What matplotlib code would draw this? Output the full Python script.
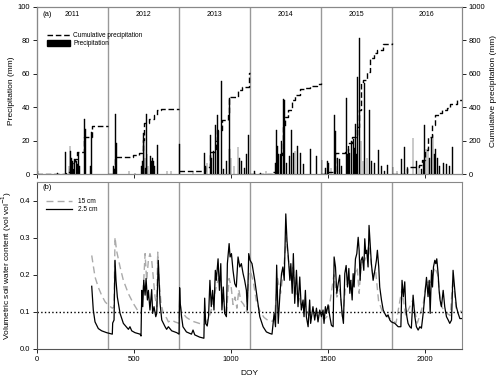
import matplotlib
matplotlib.use("Agg")
import matplotlib.pyplot as plt
from matplotlib.patches import Patch
from matplotlib.lines import Line2D

plt.rcParams['font.family'] = ['Liberation Sans', 'DejaVu Sans']

# year boundaries (DOY counted from 1 Jan 2011)
years = ["2011", "2012", "2013", "2014", "2015", "2016"]
year_start = [0, 366, 731, 1096, 1461, 1827]
year_end = [366, 731, 1096, 1461, 1827, 2190]

# daily precipitation (DOY, mm)
precip = [(3, 2), (107, 1), (148, 13.5), (165, 5), (170, 17), (173, 14), (178, 10), (182, 8), (187, 3), (195, 9),
          (203, 8), (208, 6), (213, 13), (218, 5), (244, 33), (249, 27), (275, 5), (278, 4), (282, 25.5),
          (395, 5), (400, 3), (406, 36), (409, 19), (474, 2), (505, 1), (540, 5), (545, 8), (547, 25), (551, 22),
          (556, 10), (560, 4), (564, 36), (567, 12), (572, 5), (585, 11), (590, 8), (595, 10), (600, 8), (605, 5),
          (622, 17.6), (670, 2), (690, 2),
          (735, 18), (804, 2), (864, 13), (868, 5), (876, 7), (893, 23.6), (900, 10), (910, 14), (921, 29.5),
          (929, 35.5), (935, 26), (952, 55.8), (962, 3), (975, 8), (990, 45.8), (993, 15), (1000, 10), (1015, 5),
          (1036, 16.6), (1045, 10), (1055, 8), (1070, 4), (1078, 12), (1091, 23.6),
          (1120, 2), (1150, 1), (1180, 2), (1227, 7), (1235, 26.6), (1240, 17), (1245, 12), (1253, 12), (1260, 20),
          (1270, 45), (1273, 29), (1276, 44.6), (1287, 7), (1301, 11), (1313, 26.6), (1322, 13), (1330, 14),
          (1342, 17), (1356, 13), (1373, 6), (1411, 15), (1442, 11),
          (1469, 8.7), (1485, 4), (1495, 8), (1503, 7), (1515, 4), (1534, 35.5), (1537, 26), (1550, 10), (1558, 9),
          (1570, 5), (1593, 45.5), (1598, 12), (1605, 15), (1612, 13), (1620, 20), (1629, 21), (1636, 16),
          (1642, 30), (1648, 12), (1653, 58), (1663, 81.5), (1670, 20), (1680, 8), (1689, 54.4), (1700, 10),
          (1715, 38.5), (1725, 8), (1740, 7), (1758, 14.6), (1775, 5), (1790, 2), (1806, 5.5),
          (1835, 4.5), (1855, 2), (1878, 9), (1895, 16.6), (1910, 3), (1938, 21.6), (1955, 8), (1968, 5), (1980, 3),
          (1993, 8), (1998, 29.5), (2005, 15), (2015, 16), (2023, 10), (2033, 21.6), (2041, 23.5), (2048, 12),
          (2055, 15), (2065, 10), (2075, 5), (2093, 7), (2110, 6), (2127, 5), (2143, 16.5)]

# cumulative precipitation, one list per year (DOY, mm)
cum_2011 = [(0, 3), (148, 16), (170, 45), (179, 66), (196, 90), (208, 135), (244, 225), (282, 288), (366, 288)]
cum_2012 = [(366, 0), (402, 105), (497, 115), (527, 125), (540, 145), (546, 205), (552, 305), (579, 330),
            (603, 355), (617, 385), (640, 392), (731, 392)]
cum_2013 = [(731, 22), (864, 47), (893, 136), (921, 200), (929, 266), (952, 325), (986, 355), (990, 460),
            (1036, 505), (1055, 524), (1091, 604), (1096, 604)]
cum_2014 = [(1096, 0), (1201, 5), (1218, 15), (1235, 115), (1261, 125), (1270, 284), (1278, 344), (1295, 384),
            (1313, 443), (1330, 473), (1356, 507), (1381, 517), (1407, 527), (1442, 539), (1461, 543)]
cum_2015 = [(1461, 0), (1485, 15), (1536, 125), (1588, 135), (1605, 185), (1622, 225), (1648, 284), (1661, 384),
            (1668, 553), (1682, 563), (1699, 612), (1716, 692), (1734, 722), (1751, 740), (1785, 780), (1827, 785)]
cum_2016 = [(1827, 0), (1854, 5), (1906, 46), (1940, 46), (1966, 56), (1983, 85), (2000, 145), (2017, 225),
            (2034, 294), (2052, 354), (2069, 364), (2086, 384), (2112, 394), (2129, 423), (2163, 443), (2190, 443)]

# volumetric soil water content at 2.5 cm (DOY, vol/vol)
swc25 = [(282, 0.169), (290, 0.105), (299, 0.073), (316, 0.055), (333, 0.049), (359, 0.044), (388, 0.040),
         (390, 0.070), (397, 0.078), (402, 0.239), (407, 0.185), (414, 0.140), (428, 0.096), (445, 0.069),
         (471, 0.053), (479, 0.060), (488, 0.049), (505, 0.044), (531, 0.040), (536, 0.035), (540, 0.158),
         (545, 0.114), (550, 0.185), (557, 0.145), (562, 0.190), (569, 0.132), (574, 0.158), (582, 0.105),
         (591, 0.160), (596, 0.096), (603, 0.114), (612, 0.087), (617, 0.096), (625, 0.239), (634, 0.123),
         (643, 0.078), (660, 0.060), (668, 0.053), (677, 0.060), (694, 0.049), (720, 0.044), (732, 0.040),
         (735, 0.165), (738, 0.123), (745, 0.087), (752, 0.060), (770, 0.046), (796, 0.040), (804, 0.051),
         (813, 0.038), (838, 0.032), (860, 0.029), (864, 0.137), (869, 0.069), (877, 0.062), (884, 0.087),
         (891, 0.185), (898, 0.114), (905, 0.158), (912, 0.105), (919, 0.212), (924, 0.185), (933, 0.243),
         (940, 0.158), (947, 0.230), (953, 0.105), (960, 0.167), (967, 0.096), (976, 0.087), (981, 0.230),
         (990, 0.284), (995, 0.248), (1002, 0.257), (1010, 0.212), (1019, 0.176), (1027, 0.167), (1036, 0.248),
         (1045, 0.221), (1053, 0.230), (1062, 0.203), (1070, 0.185), (1079, 0.158), (1084, 0.105),
         (1091, 0.257), (1098, 0.239), (1108, 0.230), (1122, 0.185), (1136, 0.132), (1148, 0.087), (1165, 0.060),
         (1182, 0.046), (1199, 0.042), (1211, 0.040), (1222, 0.096), (1229, 0.060), (1235, 0.226), (1243, 0.069),
         (1252, 0.150), (1260, 0.203), (1267, 0.221), (1274, 0.185), (1282, 0.364), (1288, 0.293), (1295, 0.248),
         (1303, 0.185), (1308, 0.230), (1315, 0.150), (1321, 0.257), (1328, 0.123), (1337, 0.212), (1345, 0.114),
         (1354, 0.194), (1362, 0.105), (1371, 0.132), (1376, 0.087), (1383, 0.158), (1388, 0.087), (1397, 0.060),
         (1405, 0.132), (1410, 0.069), (1422, 0.114), (1431, 0.078), (1440, 0.110), (1448, 0.073), (1457, 0.105),
         (1466, 0.087), (1474, 0.105), (1479, 0.069), (1486, 0.114), (1491, 0.096), (1500, 0.119), (1509, 0.087),
         (1517, 0.064), (1526, 0.060), (1531, 0.248), (1538, 0.221), (1545, 0.150), (1552, 0.176), (1560, 0.199),
         (1565, 0.141), (1572, 0.096), (1579, 0.069), (1586, 0.203), (1593, 0.225), (1600, 0.167), (1607, 0.217),
         (1612, 0.150), (1617, 0.185), (1624, 0.132), (1629, 0.203), (1634, 0.167), (1641, 0.243), (1648, 0.257),
         (1655, 0.301), (1660, 0.266), (1665, 0.185), (1670, 0.239), (1677, 0.248), (1684, 0.212), (1689, 0.297),
         (1694, 0.257), (1699, 0.266), (1706, 0.221), (1711, 0.333), (1718, 0.275), (1723, 0.230), (1732, 0.185),
         (1741, 0.212), (1749, 0.239), (1754, 0.266), (1761, 0.221), (1766, 0.167), (1775, 0.132), (1784, 0.105),
         (1792, 0.096), (1801, 0.087), (1809, 0.092), (1818, 0.078),
         (1826, 0.073), (1844, 0.069), (1861, 0.060), (1875, 0.060), (1881, 0.185), (1888, 0.141), (1895, 0.181),
         (1900, 0.114), (1906, 0.087), (1912, 0.069), (1921, 0.060), (1929, 0.056), (1938, 0.145), (1947, 0.087),
         (1955, 0.060), (1964, 0.051), (1973, 0.060), (1981, 0.056), (1990, 0.096), (1998, 0.141), (2007, 0.193),
         (2015, 0.141), (2021, 0.185), (2026, 0.096), (2033, 0.212), (2038, 0.167), (2043, 0.221), (2050, 0.239),
         (2055, 0.230), (2060, 0.243), (2067, 0.203), (2072, 0.158), (2077, 0.132), (2084, 0.114), (2093, 0.158),
         (2101, 0.114), (2110, 0.087), (2119, 0.078), (2127, 0.069), (2136, 0.078), (2144, 0.212), (2153, 0.158),
         (2161, 0.114), (2170, 0.096), (2179, 0.082), (2190, 0.082)]

# volumetric soil water content at 15 cm (DOY, vol/vol)
swc15 = [(282, 0.252), (299, 0.194), (316, 0.166), (333, 0.145), (351, 0.127), (368, 0.118), (388, 0.110),
         (397, 0.113), (402, 0.301), (410, 0.265), (428, 0.221), (445, 0.185), (471, 0.149), (496, 0.123),
         (522, 0.101), (536, 0.096), (543, 0.132), (550, 0.185), (557, 0.257), (565, 0.185), (574, 0.239),
         (582, 0.257), (591, 0.239), (599, 0.194), (608, 0.141), (617, 0.114), (622, 0.261), (629, 0.185),
         (639, 0.123), (651, 0.096), (668, 0.083), (677, 0.073), (694, 0.078), (711, 0.073), (732, 0.069),
         (735, 0.13), (745, 0.10), (770, 0.085), (800, 0.075), (830, 0.07), (860, 0.065), (870, 0.07), (890, 0.09),
         (905, 0.12), (920, 0.16), (935, 0.19), (950, 0.17), (965, 0.12), (975, 0.09), (990, 0.19), (1000, 0.17),
         (1010, 0.12), (1020, 0.14), (1030, 0.11), (1040, 0.16), (1050, 0.13), (1065, 0.12), (1080, 0.10),
         (1091, 0.20), (1100, 0.21), (1115, 0.18), (1130, 0.13), (1150, 0.10), (1170, 0.085), (1195, 0.075),
         (1215, 0.075), (1225, 0.09), (1240, 0.19), (1255, 0.15), (1270, 0.21), (1285, 0.30), (1295, 0.24),
         (1310, 0.19), (1320, 0.22), (1335, 0.15), (1350, 0.14), (1365, 0.11), (1380, 0.12), (1400, 0.09),
         (1420, 0.10), (1440, 0.09), (1460, 0.09), (1480, 0.08), (1500, 0.09), (1530, 0.20), (1545, 0.14),
         (1560, 0.16), (1575, 0.08), (1590, 0.17), (1610, 0.18), (1630, 0.19), (1650, 0.22), (1660, 0.15),
         (1670, 0.23), (1690, 0.24), (1710, 0.28), (1730, 0.20), (1745, 0.21), (1760, 0.13), (1780, 0.10),
         (1800, 0.09), (1823, 0.08), (1850, 0.07), (1880, 0.16), (1900, 0.09), (1935, 0.13), (1960, 0.07),
         (1990, 0.12), (2005, 0.18), (2030, 0.18), (2050, 0.22), (2065, 0.20), (2080, 0.12), (2100, 0.10),
         (2130, 0.09), (2143, 0.19), (2160, 0.11), (2190, 0.10)]

threshold = 0.1

fig = plt.figure(figsize=(5, 3.8), dpi=100)
ax1 = fig.add_axes([0.074, 0.541, 0.85, 0.441])
ax2 = fig.add_axes([0.074, 0.0816, 0.85, 0.4395])
ax1r = ax1.twinx()

fs_tick = 5.5
fs_lab = 6

# (a) precipitation
p_doy, p_mm = zip(*precip)
ax1.bar(p_doy, p_mm, width=4, color='black', edgecolor='black', linewidth=0.3, zorder=3)
for seg in (cum_2011, cum_2012, cum_2013, cum_2014, cum_2015, cum_2016):
    d, c = zip(*seg)
    ax1r.plot(d, c, color='black', linestyle='--', dashes=(4, 2), linewidth=1.0, drawstyle='steps-post')
ax1.set_xlim(0, 2190)
ax1.set_ylim(0, 100)
ax1r.set_ylim(0, 1000)
ax1.set_yticks(range(0, 101, 20))
ax1r.set_yticks(range(0, 1001, 200))
ax1.set_xticks(range(0, 2001, 500))
ax1.set_xticklabels([])
ax1.set_ylabel("Precipitation (mm)", fontsize=fs_lab, labelpad=2)
ax1r.set_ylabel("Cumulative precipitation (mm)", fontsize=fs_lab, labelpad=3)
ax1.text(0.012, 0.952, "(a)", transform=ax1.transAxes, fontsize=fs_tick, va='center')
for y, s, e in zip(years, year_start, year_end):
    ax1.text((s + e) / 2, 95.2, y, fontsize=5, ha='center', va='center')

handles = [Line2D([0], [0], color='black', linestyle='--', dashes=(4, 2), linewidth=1.0),
           Patch(facecolor='black', edgecolor='black')]
ax1.legend(handles, ["Cumulative precipitation", "Precipitation"], loc='upper left',
           bbox_to_anchor=(0.012, 0.875), fontsize=4.7, frameon=False, handlelength=3.6,
           handleheight=0.9, handletextpad=0.5, labelspacing=0.15, borderpad=0.2)

# (b) soil water content
d15, v15 = zip(*swc15)
d25, v25 = zip(*swc25)
ax2.plot(d15, v15, color='#aaaaaa', linestyle='--', dashes=(5, 3), linewidth=1.0, label="15 cm")
ax2.plot(d25, v25, color='black', linewidth=0.9, label="2.5 cm")
ax2.axhline(threshold, color='black', linestyle=':', linewidth=1.0)
ax2.set_xlim(0, 2190)
ax2.set_ylim(0, 0.45)
ax2.set_yticks([0.0, 0.1, 0.2, 0.3, 0.4])
ax2.set_yticklabels(["0.0", "0.1", "0.2", "0.3", "0.4"])
ax2.set_xticks(range(0, 2001, 500))
ax2.set_xlabel("DOY", fontsize=fs_lab, labelpad=5)
ax2.set_ylabel("Volumetric soil water content (vol vol$^{-1}$)", fontsize=fs_lab, labelpad=4)
ax2.text(0.012, 0.964, "(b)", transform=ax2.transAxes, fontsize=fs_tick, va='center')
ax2.legend(loc='upper left', bbox_to_anchor=(0.01, 0.93), fontsize=4.7, frameon=False,
           handlelength=4.0, handletextpad=1.0, labelspacing=0.15, borderpad=0.2)

for ax in (ax1, ax2):
    for s in year_start[1:]:
        ax.axvline(s, color='#999999', linewidth=1.0, zorder=1)

for ax in (ax1, ax1r, ax2):
    ax.tick_params(labelsize=fs_tick, length=3, width=0.6, pad=2)
    for sp in ax.spines.values():
        sp.set_color('#888888')
        sp.set_linewidth(0.8)
ax1.spines['left'].set_color('black')
ax2.spines['left'].set_color('#555555')
ax2.spines['bottom'].set_color('#555555')

fig.savefig("out.png", dpi=100)
